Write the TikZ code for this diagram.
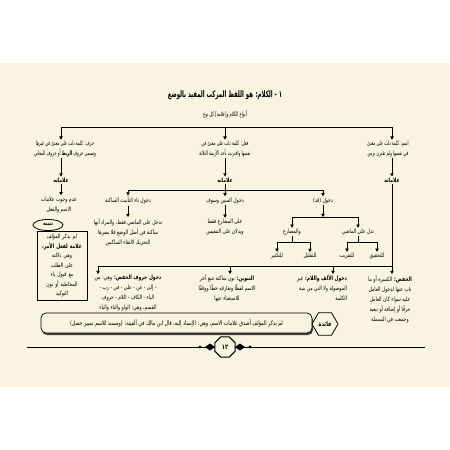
\documentclass[tikz,border=0pt]{standalone}
\usepackage{fontspec}
\usetikzlibrary{arrows.meta,shapes.geometric,calc}
\TeXXeTstate=1
\newfontfamily\arabicfont[Script=Arabic,FakeStretch=0.75]{DejaVu Sans}
\newfontfamily\arabicnarrow[Script=Arabic,FakeStretch=0.6]{DejaVu Sans}
\newcommand\AR[1]{\beginR #1\endR}
\definecolor{pagebg}{RGB}{248,244,224}
\tikzset{
  ar/.style={font=\arabicfont\fontsize{6}{10}\selectfont, inner sep=1pt, align=center, text=black},
  arn/.style={ar, font=\arabicnarrow\fontsize{6.2}{10}\selectfont},
  arb/.style={ar, font=\arabicfont\bfseries\fontsize{6}{10}\selectfont},
  arr/.style={-{Triangle[length=3.2pt,width=3.4pt]}, line width=0.7pt},
  ln/.style={line width=0.7pt},
}
\begin{document}
\begin{tikzpicture}[x=1pt,y=-1pt]
\useasboundingbox (0,0) rectangle (450,450);
\fill[white] (0,0) rectangle (450,450);
\fill[pagebg] (0,63) rectangle (450,387);

% title
\node[ar, font=\arabicnarrow\bfseries\fontsize{9}{10}\selectfont] (title) at (225,95) {\AR{١ - الكلام: هو اللفظ المركب المفيد بالوضع}};
\node[arn] (sub) at (225,114) {\AR{أنواع الكلام و[علامة] كل نوع}};

% top branch
\coordinate (L1) at (61,127);
\coordinate (L2) at (225,127);
\coordinate (L3) at (392,127);
\draw[ln] (L1) -- (L3);

\node[arn] (ism) at (388,149) {\AR{اسم: كلمة دلت على معنىً}\\\AR{في نفسها ولم تقترن بزمن}};
\node[arn] (fil) at (225,149) {\AR{فعل: كلمة دلت على معنىً في}\\\AR{نفسها واقترنت بأحد الأزمنة الثلاثة}};
\node[arn] (harf) at (65,149) {\AR{حرف: كلمة دلت على معنىً في غيرها}\\\AR{وتسمى حروف \textbf{الربط} أو حروف المعاني}};

\draw[arr] (L1) -- (L1 |- harf.north);
\draw[arr] (L2) -- (L2 |- fil.north);
\draw[arr] (L3) -- (L3 |- ism.north);

\node[arb] (ismM) at (392,180) {\AR{علاماته}};
\node[arb] (filM) at (225,180) {\AR{علاماته}};
\node[arb] (harfM) at (61,180) {\AR{علاماته}};

\draw[arr] (ismM.north |- ism.south) -- (ismM.north);
\draw[arr] (filM.north |- fil.south) -- (filM.north);
\draw[arr] (harfM.north |- harf.south) -- (harfM.north);

% harf column
\node[ar] (harfN) at (59,204.5) {\AR{عدم وجوب علامات}\\\AR{الاسم والفعل}};
\draw[arr] (harfM.south) -- (harfM.south |- harfN.north);

\node[ar, draw, line width=0.7pt, text width=44pt, anchor=north, inner sep=3pt,
      font=\arabicfont\fontsize{6}{9.5}\selectfont] (tbox) at (62,231)
  {\AR{لم يذكر المؤلف}\\\AR{\textbf{علامة لفعل الأمر،}}\\\AR{وهي دلالته}\\\AR{على الطلب}\\\AR{مع قبول ياء}\\\AR{المخاطبة أو نون}\\\AR{التوكيد}};
\node[ellipse, draw, line width=0.8pt, fill=pagebg, minimum width=30pt, minimum height=11pt, inner sep=0pt,
      font=\arabicfont\bfseries\fontsize{6}{8}\selectfont] (tanbih) at (48,225) {\AR{تنبيه}};

% fi'l column
\coordinate (Fa) at (128,190);
\coordinate (Fc) at (323,190);
\node[ar] (taa) at (128,200.5) {\AR{دخول تاء التأنيث الساكنة}};
\node[ar] (sin) at (225,200.5) {\AR{دخول السين وسوف}};
\node[ar] (qad) at (323,200.5) {\AR{دخول (قد)}};
\draw[ln] (Fa) -- (Fc);
\draw[arr] (filM.south) -- (sin.north);
\draw[arr] (Fa) -- (taa.north);
\draw[arr] (Fc) -- (qad.north);

\node[ar] (taaD) at (128,232) {\AR{تدخل على الماضي فقط، والمراد أنها}\\\AR{ساكنة في أصل الوضع فلا يضرها}\\\AR{التحريك لالتقاء الساكنين}};
\node[ar] (sinD) at (225,227) {\AR{على المضارع فقط}\\\AR{ويدلان على التنفيس}};
\draw[arr] (taa.south) -- (taaD.north);
\draw[arr] (sin.south) -- (sinD.north);

% qad
\coordinate (Qa) at (292,217);
\coordinate (Qb) at (358,217);
\draw[arr] (qad.south) -- (qad.south |- Qa);
\draw[ln] (Qa) -- (Qb);
\node[ar] (mud) at (292,232) {\AR{والمضارع}};
\node[ar] (mad) at (358,232) {\AR{تدل على الماضي}};
\draw[arr] (Qa) -- (mud.north);
\draw[arr] (Qb) -- (mad.north);

\coordinate (Ma) at (277,242);
\coordinate (Mb) at (310,242);
\draw[ln] (mud.south) -- (mud.south |- Ma);
\draw[ln] (Ma) -- (Mb);
\node[ar] (tak) at (277,256) {\AR{للتكثير}};
\node[ar] (taq) at (310,256) {\AR{للتقليل}};
\draw[arr] (Ma) -- (tak.north);
\draw[arr] (Mb) -- (taq.north);

\coordinate (Da) at (347,242);
\coordinate (Db) at (377,242);
\draw[ln] (mad.south) -- (mad.south |- Da);
\draw[ln] (Da) -- (Db);
\node[ar] (qrb) at (347,256) {\AR{للتقريب}};
\node[ar] (thq) at (377,256) {\AR{للتحقيق}};
\draw[arr] (Da) -- (qrb.north);
\draw[arr] (Db) -- (thq.north);

% ism signs
\coordinate (Ia) at (98,266);
\coordinate (Ib) at (230,266);
\coordinate (Ic) at (333,266);
\coordinate (Id) at (392,266);
\node[ar, anchor=north] (khafd) at (390,274) {\AR{\textbf{الخفض:} الكسرة أو ما}\\\AR{ناب عنها لدخول العامل}\\\AR{عليه سواء كان العامل}\\\AR{حرفًا أو إضافة أو تبعية}\\\AR{وجمعت في البسملة}};
\node[ar, anchor=north, align=right] (alif) at (322,274) {\AR{\textbf{دخول الألف واللام:} غير}\\\AR{الموصولة ولا التي من بنية}\\\AR{الكلمة}};
\node[ar, anchor=north] (tanwin) at (227,274) {\AR{\textbf{التنوين:} نون ساكنة تتبع آخر}\\\AR{الاسم لفظًا وتفارقه خطًا ووقفًا}\\\AR{للاستغناء عنها}};
\node[ar, anchor=north] (huruf) at (128,274) {\AR{\textbf{دخول حروف الخفض:} وهي: من}\\\AR{- إلى - عن - على - في - رب -}\\\AR{الباء - الكاف - اللام - حروف}\\\AR{القسم، وهي: الواو والتاء والباء}};
\draw[ln] (Ia) -- (Id);
\draw[arr] (ismM.south) -- (ismM.south |- khafd.north);
\draw[arr] (Ia) -- (Ia |- huruf.north);
\draw[arr] (Ib) -- (Ib |- tanwin.north);
\draw[arr] (Ic) -- (Ic |- alif.north);

% faida box
\fill[black!75, rounded corners=5pt] (42,315) rectangle (313,335);
\node[ar, draw, fill=pagebg, line width=0.7pt, rounded corners=5pt, minimum width=271pt, minimum height=20pt,
      font=\arabicfont\fontsize{6.3}{10}\selectfont] (fbox) at (176.5,323)
  {\AR{لم يذكر المؤلف أصدق علامات الاسم، وهي: الإسناد إليه، قال ابن مالك في ألفيته: (ومسند للاسم تمييز حصل)}};
\node[regular polygon, regular polygon sides=6, draw, line width=0.8pt, fill=pagebg, minimum size=26pt, inner sep=0pt,
      font=\arabicfont\bfseries\fontsize{6.5}{8}\selectfont] (faida) at (325,324) {\AR{فائدة}};

% footer
\coordinate (FL) at (27,347);
\coordinate (FR) at (425,347);
\draw[line width=0.6pt] (FL) -- (FR);
\fill[black] (205,347) -- (210,343.5) -- (215,347) -- (210,350.5) -- cycle;
\fill[black] (200,347) circle (1.6pt);
\fill[black] (235,347) -- (240,343.5) -- (245,347) -- (240,350.5) -- cycle;
\fill[black] (250,347) circle (1.6pt);
\node[regular polygon, regular polygon sides=8, draw, line width=0.9pt, fill=pagebg, minimum size=22pt, inner sep=0pt,
      font=\arabicfont\bfseries\fontsize{7}{8}\selectfont] (page) at (225,347) {١٢};
\end{tikzpicture}
\end{document}
